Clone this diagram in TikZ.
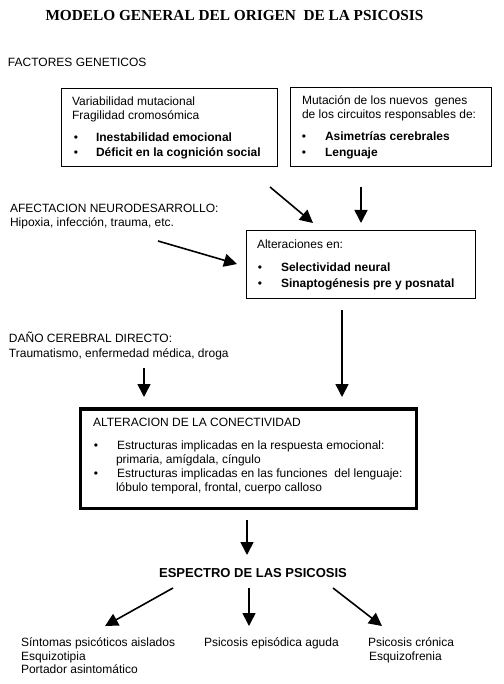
\documentclass[tikz,border=0pt]{standalone}
\usepackage{fontspec}
\setmainfont{Liberation Sans}
\newfontfamily\titlefont{Liberation Serif}
\usetikzlibrary{arrows.meta}
\tikzset{
  txt/.style={anchor=base west, inner sep=0pt, outer sep=0pt, font=\fontsize{12}{14}\selectfont},
  btxt/.style={txt, font=\fontsize{12}{14}\selectfont\bfseries},
  bul/.style={anchor=base, inner sep=0pt, font=\fontsize{12}{14}\selectfont},
  box/.style={draw, line width=1pt, inner sep=0pt, outer sep=0pt},
  thickbox/.style={draw, line width=3.3pt, inner sep=0pt, outer sep=0pt},
  arr/.style={line width=1.6pt, -{Triangle[length=13pt,width=13pt]}}
}
\begin{document}
\begin{tikzpicture}[x=1pt,y=-1pt]
\useasboundingbox[fill=white] (0,0) rectangle (503,684);
% title
\node[anchor=base, inner sep=0pt, font=\titlefont\fontsize{15.3}{17}\selectfont\bfseries] (title) at (234.5,21) {MODELO GENERAL DEL ORIGEN\ \ DE LA PSICOSIS};
\node[txt] (fg) at (8,67) {FACTORES GENETICOS};
% box 1
\node[box, minimum width=216pt, minimum height=78pt] (b1) at (169,128) {};
\node[txt] (b1l1) at (72,106) {Variabilidad mutacional};
\node[txt] (b1l2) at (72,120) {Fragilidad cromosómica};
\node[bul] (b1d1) at (76,142) {•};
\node[btxt] (b1l3) at (96,142) {Inestabilidad emocional};
\node[bul] (b1d2) at (76,157) {•};
\node[btxt] (b1l4) at (96,157) {Déficit en la cognición social};
% box 2
\node[box, minimum width=201pt, minimum height=79pt] (b2) at (390.5,127.5) {};
\node[txt] (b2l1) at (302,105) {Mutación de los nuevos\ \ genes};
\node[txt] (b2l2) at (302,119) {de los circuitos responsables de:};
\node[bul] (b2d1) at (304,141) {•};
\node[btxt] (b2l3) at (325,141) {Asimetrías cerebrales};
\node[bul] (b2d2) at (304,157) {•};
\node[btxt] (b2l4) at (325,157) {Lenguaje};
% neurodesarrollo
\node[txt] (an1) at (10,213) {AFECTACION NEURODESARROLLO:};
\node[txt] (an2) at (10,227) {Hipoxia, infección, trauma, etc.};
% box 3
\node[box, minimum width=229pt, minimum height=67pt] (b3) at (360.5,264.5) {};
\node[txt] (b3l1) at (257,248) {Alteraciones en:};
\node[bul] (b3d1) at (260,271) {•};
\node[btxt] (b3l2) at (281,271) {Selectividad neural};
\node[bul] (b3d2) at (260,287) {•};
\node[btxt] (b3l3) at (281,287) {Sinaptogénesis pre y posnatal};
% daño cerebral
\node[txt] (dc1) at (9,342) {DAÑO CEREBRAL DIRECTO:};
\node[txt] (dc2) at (9,357) {Traumatismo, enfermedad médica, droga};
% box 4
\node[thickbox, minimum width=336pt, minimum height=99.5pt] (b4) at (248.5,458.75) {};
\node[txt] (b4l1) at (93,426) {ALTERACION DE LA CONECTIVIDAD};
\node[bul] (b4d1) at (96,449) {•};
\node[txt] (b4l2) at (117,449) {Estructuras implicadas en la respuesta emocional:};
\node[txt] (b4l3) at (116,463) {primaria, amígdala, cíngulo};
\node[bul] (b4d2) at (96,477) {•};
\node[txt] (b4l4) at (117,477) {Estructuras implicadas en las funciones\ \ del lenguaje:};
\node[txt] (b4l5) at (116,491) {lóbulo temporal, frontal, cuerpo calloso};
% espectro
\node[anchor=base, inner sep=0pt, font=\fontsize{13}{15}\selectfont\bfseries] (esp) at (253,577) {ESPECTRO DE LAS PSICOSIS};
% outcomes
\node[txt] (o1a) at (21,646) {Síntomas psicóticos aislados};
\node[txt] (o1b) at (21,660) {Esquizotipia};
\node[txt] (o1c) at (21,673) {Portador asintomático};
\node[txt] (o2) at (204,646) {Psicosis episódica aguda};
\node[txt] (o3a) at (368,646) {Psicosis crónica};
\node[txt] (o3b) at (369,660) {Esquizofrenia};
% arrow coordinates
\coordinate (a1s) at (270,187); \coordinate (a1e) at (313,223);
\coordinate (a2s) at (361,187); \coordinate (a2e) at (361,223);
\coordinate (a3s) at (158,241); \coordinate (a3e) at (237,264);
\coordinate (a4s) at (342,310); \coordinate (a4e) at (342,397);
\coordinate (a5s) at (144,368); \coordinate (a5e) at (144,397);
\coordinate (a6s) at (247,520); \coordinate (a6e) at (247,555);
\coordinate (a7s) at (173,588); \coordinate (a7e) at (105,626);
\coordinate (a8s) at (249,588); \coordinate (a8e) at (249,626);
\coordinate (a9s) at (333,588); \coordinate (a9e) at (382,626);
\draw[arr] (a1s) -- (a1e);
\draw[arr] (a2s) -- (a2e);
\draw[arr] (a3s) -- (a3e);
\draw[arr] (a4s) -- (a4e);
\draw[arr] (a5s) -- (a5e);
\draw[arr] (a6s) -- (a6e);
\draw[arr] (a7s) -- (a7e);
\draw[arr] (a8s) -- (a8e);
\draw[arr] (a9s) -- (a9e);
\end{tikzpicture}
\end{document}
